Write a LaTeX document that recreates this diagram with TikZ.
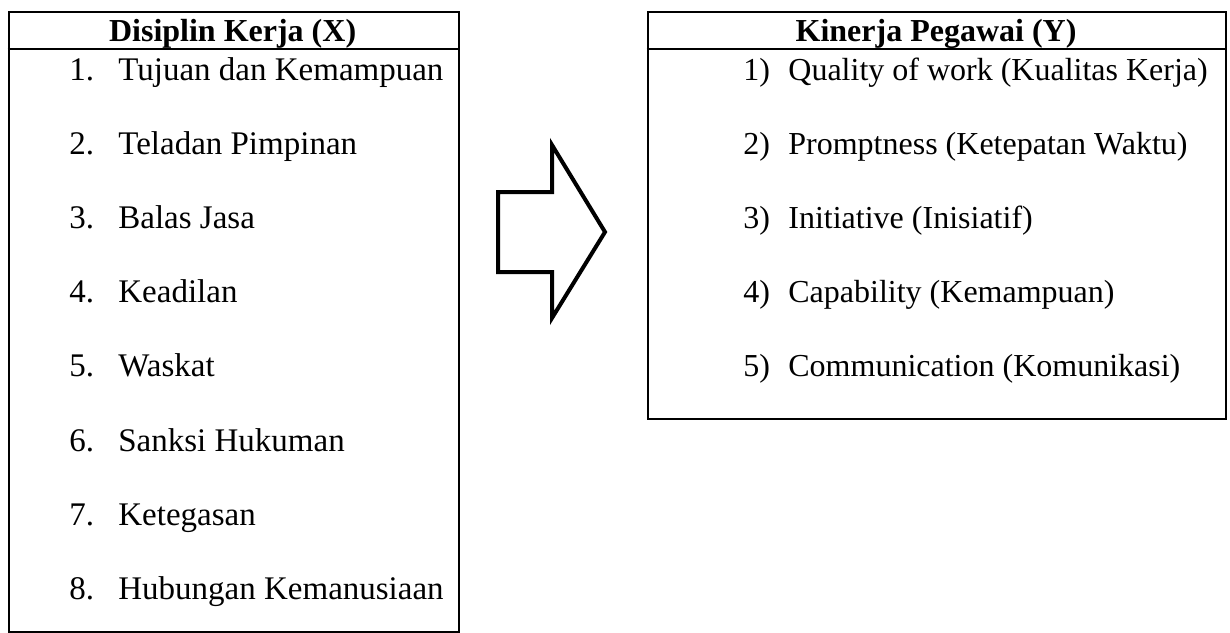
\documentclass[tikz,border=0pt]{standalone}
\usepackage{fontspec}
\setmainfont{Liberation Serif}
\begin{document}
\begin{tikzpicture}[x=0.5pt,y=-0.5pt,
  boxframe/.style={draw, line width=1pt, inner sep=0pt, anchor=north west},
  headtext/.style={inner sep=0pt, anchor=base, font=\fontsize{16}{19}\selectfont\bfseries},
  itemtext/.style={inner sep=0pt, anchor=base west, font=\fontsize{16.5}{19}\selectfont},
  ritemtext/.style={inner sep=0pt, anchor=base west, font=\fontsize{16}{19}\selectfont},
  bigarrow/.style={draw, line width=2pt, line join=miter}]
\useasboundingbox (0,0) rectangle (1230,632);
% boxes
\node[boxframe, minimum width=225.1pt, minimum height=309.75pt] (lbox) at (7.5,11) {};
\node[boxframe, minimum width=289.15pt, minimum height=203.5pt] (rbox) at (646.7,11) {};
\coordinate (lh1) at (7.5,49); \coordinate (lh2) at (457.7,49);
\coordinate (rh1) at (646.7,49); \coordinate (rh2) at (1225,49);
\draw[line width=1pt] (lh1) -- (lh2);
\draw[line width=1pt] (rh1) -- (rh2);
% headers
\node[headtext] (lhead) at (232.6,41.5) {Disiplin Kerja (X)};
\node[headtext] (rhead) at (936,41.5) {Kinerja Pegawai (Y)};
% left items
\foreach \i/\t in {1/Tujuan dan Kemampuan,2/Teladan Pimpinan,3/Balas Jasa,4/Keadilan,5/Waskat,6/Sanksi Hukuman,7/Ketegasan,8/Hubungan Kemanusiaan}{
  \node[itemtext] (l\i) at (69,{80+74.2*(\i-1)}) {\makebox[24.5pt][l]{\i.}\t};
}
% right items
\foreach \i/\t in {1/Quality of work (Kualitas Kerja),2/Promptness (Ketepatan Waktu),3/Initiative (Inisiatif),4/Capability (Kemampuan),5/Communication (Komunikasi)}{
  \node[ritemtext] (r\i) at (743,{80+74.2*(\i-1)}) {\makebox[22.5pt][l]{\i)}\t};
}
% block arrow
\draw[bigarrow] (498,192) -- (552,192) -- (552,145) -- (605,232) -- (552,318) -- (552,272) -- (498,272) -- cycle;
\end{tikzpicture}
\end{document}
